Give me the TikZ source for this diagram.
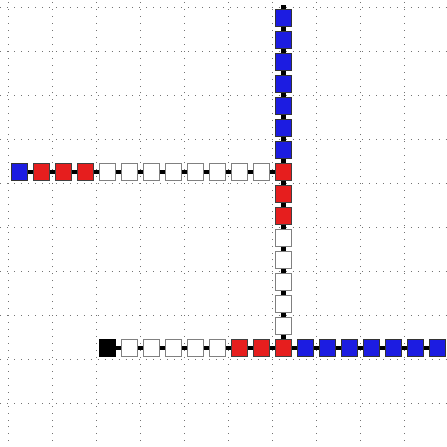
\documentclass[tikz,border=0pt]{standalone}
\usepackage{xcolor}
\definecolor{cbleu}{RGB}{28,28,225}
\definecolor{crouge}{RGB}{230,30,30}
\tikzset{
  case/.style={draw, minimum size=0.37cm, inner sep=0pt, line width=0.6pt},
  bleu/.style={case, fill=cbleu, draw=black!80},
  rouge/.style={case, fill=crouge, draw=black!75},
  blanc/.style={case, fill=white, draw=gray},
  noir/.style={case, fill=black, draw=black},
  lien/.style={line width=3pt, black}
}

\begin{document}
\begin{tikzpicture}[x=0.5cm, y=0.5cm]
\useasboundingbox (-0.38,-20) rectangle (19.94,0.32);
\clip (-0.38,-20) rectangle (19.94,0.32);
\draw[black!55, line width=0.5pt, loosely dotted] (-1,-21) grid (21,1);
% colonne verticale
\foreach \j/\c in {0/bleu,1/bleu,2/bleu,3/bleu,4/bleu,5/bleu,6/bleu,7/rouge,8/rouge,9/rouge,
  10/blanc,11/blanc,12/blanc,13/blanc,14/blanc}
  \node[\c] (c\j) at (12.5,-\j-0.5) {};
% ligne du haut
\foreach \i/\c in {0/bleu,1/rouge,2/rouge,3/rouge,4/blanc,5/blanc,6/blanc,7/blanc,8/blanc,
  9/blanc,10/blanc,11/blanc}
  \node[\c] (r\i) at (\i+0.5,-7.5) {};
% ligne du bas
\foreach \i/\c in {4/noir,5/blanc,6/blanc,7/blanc,8/blanc,9/blanc,10/rouge,11/rouge,12/rouge,
  13/bleu,14/bleu,15/bleu,16/bleu,17/bleu,18/bleu,19/bleu}
  \node[\c] (d\i) at (\i+0.5,-15.5) {};
% liens
\coordinate (haut) at ([yshift=0.09cm]c0.north);
\draw[lien] (c0) -- (haut);
\foreach \j [evaluate=\j as \n using int(\j+1)] in {0,...,13}
  \draw[lien] (c\j) -- (c\n);
\draw[lien] (c14) -- (d12);
\foreach \i [evaluate=\i as \n using int(\i+1)] in {0,...,10}
  \draw[lien] (r\i) -- (r\n);
\draw[lien] (r11) -- (c7);
\foreach \i [evaluate=\i as \n using int(\i+1)] in {4,...,18}
  \draw[lien] (d\i) -- (d\n);
\end{tikzpicture}
\end{document}
